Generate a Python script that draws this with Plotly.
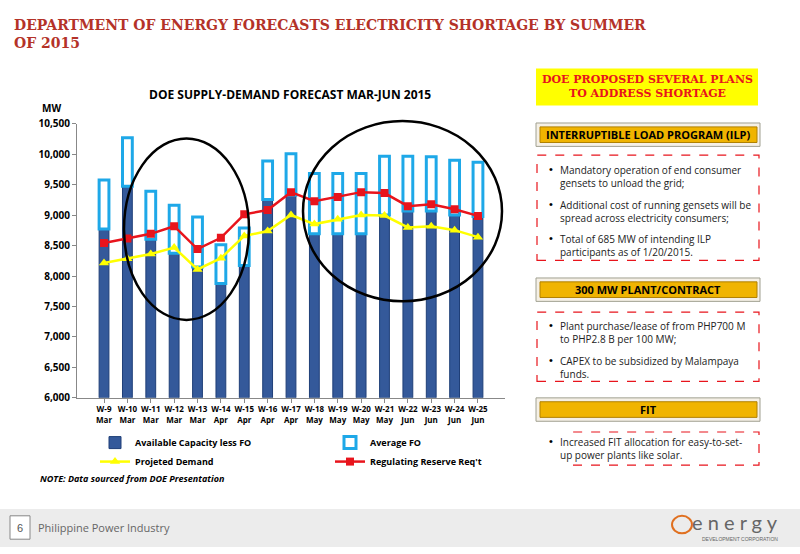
import plotly.graph_objects as go

weeks = ["W-9<br>Mar","W-10<br>Mar","W-11<br>Mar","W-12<br>Mar","W-13<br>Mar","W-14<br>Apr","W-15<br>Apr","W-16<br>Apr","W-17<br>Apr","W-18<br>May","W-19<br>May","W-20<br>May","W-21<br>May","W-22<br>Jun","W-23<br>Jun","W-24<br>Jun","W-25<br>Jun"]
available = [8775,9475,8605,8375,8150,7880,8175,9260,9330,8695,8695,8695,9005,9070,9070,9005,8980]
avg_total = [9580,10275,9395,9165,8970,8515,8790,9890,10010,9685,9685,9685,9970,9970,9960,9905,9870]
reserve = [8545,8620,8695,8820,8445,8630,9015,9085,9380,9230,9300,9380,9365,9150,9180,9100,8990]
demand = [8215,8285,8365,8470,8110,8295,8660,8740,9005,8855,8935,9005,8995,8800,8820,8755,8640]
avg_fo = [t - a for t, a in zip(avg_total, available)]
tick_text = ["<b>" + w + "</b>" for w in weeks]

W, H = 800, 554
def px(x): return x / W
def py(y): return 1 - y / H

fig = go.Figure()
fig.add_bar(x=weeks, y=[a - 6000 for a in available], base=6000, name="<b>Available Capacity less FO</b>",
            marker=dict(color="#34599a", line=dict(color="#1f3f78", width=1)), width=0.42)
fig.add_bar(x=weeks, y=avg_fo, base=available, name="<b>Average FO</b>",
            marker=dict(color="white", line=dict(color="#1ea8e8", width=3)), width=0.42)
fig.add_scatter(x=weeks, y=demand, name="<b>Projeted Demand</b>", mode="lines+markers",
                line=dict(color="#ffff00", width=2.5), marker=dict(symbol="triangle-up", size=9, color="#ffff00"))
fig.add_scatter(x=weeks, y=reserve, name="<b>Regulating Reserve Req't</b>", mode="lines+markers",
                line=dict(color="#e8141c", width=2.5), marker=dict(symbol="square", size=8, color="#e8141c"))

fig.update_layout(
    width=W, height=H, margin=dict(l=0, r=0, t=0, b=0), plot_bgcolor="white", paper_bgcolor="white",
    barmode="overlay", font=dict(family="Liberation Sans", color="black"),
    xaxis=dict(domain=[px(77), px(505)], tickfont=dict(size=8, family="Open Sans"), tickangle=0, showline=True,
               tickvals=weeks, ticktext=tick_text,
               linecolor="#888", ticks="outside", ticklen=4, tickcolor="#888"),
    yaxis=dict(domain=[py(401), py(120)], range=[6000, 10500], dtick=500, tickformat=",",
               tickfont=dict(size=10, family="Open Sans"), showline=True, linecolor="#888",
               ticks="outside", ticklen=4, tickcolor="#888", showgrid=False, tickprefix="<b>", ticksuffix="</b>"),
    legend=dict(orientation="h", x=px(125), y=py(432), xanchor="left", yanchor="top",
                entrywidth=190, font=dict(size=9, family="Open Sans"), tracegroupgap=2),
    showlegend=True,
)

shapes = []
ann = []
def A(x, y, text, xa="center", ya="middle", **kw):
    ann.append(dict(x=px(x), y=py(y), xref="paper", yref="paper", xanchor=xa, yanchor=ya, showarrow=False,
                    text=text, align="left" if xa == "left" else "center", **kw))

A(12, 8, "<b>DEPARTMENT OF ENERGY FORECASTS ELECTRICITY SHORTAGE BY SUMMER<br>OF 2015</b>", xa="left", ya="top",
  font=dict(family="DejaVu Serif", size=14, color="#b43228"))
A(290, 90, "<b>DOE SUPPLY-DEMAND FORECAST MAR-JUN 2015</b>", font=dict(size=12, family="Open Sans"))
A(40, 104, "<b>MW</b>", xa="left", font=dict(size=10, family="Open Sans"))
A(38, 484, "<b><i>NOTE: Data sourced from DOE Presentation</i></b>", xa="left", font=dict(size=9, family="Open Sans"))
for x0, y0, x1, y1 in [(124, 135, 249, 321), (303, 117, 502, 302)]:
    shapes.append(dict(type="circle", xref="paper", yref="paper", x0=px(x0), x1=px(x1), y0=py(y1), y1=py(y0),
                       line=dict(color="black", width=2.5)))
shapes.append(dict(type="rect", xref="paper", yref="paper", x0=px(536), x1=px(758), y0=py(101), y1=py(63),
                   fillcolor="#ffff00", line=dict(width=0)))
A(647, 82, "<b>DOE PROPOSED SEVERAL PLANS<br>TO ADDRESS SHORTAGE</b>", font=dict(family="DejaVu Serif", size=11, color="#e8141c"))
headers = [("INTERRUPTIBLE LOAD PROGRAM (ILP)", 131), ("300 MW PLANT/CONTRACT", 290), ("FIT", 413)]
for t, yc in headers:
    shapes.append(dict(type="rect", xref="paper", yref="paper", x0=px(536), x1=px(760), y0=py(yc + 12), y1=py(yc - 12),
                       fillcolor="#f5f0e6", line=dict(color="#a0a090", width=1)))
    shapes.append(dict(type="rect", xref="paper", yref="paper", x0=px(540), x1=px(757), y0=py(yc + 8), y1=py(yc - 8),
                       fillcolor="#f0b400", line=dict(color="#b08000", width=1)))
    A(648, yc, "<b>" + t + "</b>", font=dict(family="Open Sans", size=11, color="black"))
boxes = [
    (152, 260, ["Mandatory operation of end consumer<br>gensets to unload the grid;",
                "Additional cost of running gensets will be<br>spread across electricity consumers;",
                "Total of 685 MW of intending ILP<br>participants as of 1/20/2015."], [174, 210, 245]),
    (313, 384, ["Plant purchase/lease of from PHP700 M<br>to PHP2.8 B per 100 MW;",
                "CAPEX to be subsidized by Malampaya<br>funds."], [334, 370]),
    (436, 470, ["Increased FIT allocation for easy-to-set-<br>up power plants like solar."], [453]),
]
for y0, y1, items, ys in boxes:
    shapes.append(dict(type="rect", xref="paper", yref="paper", x0=px(537), x1=px(759), y0=py(y1), y1=py(y0),
                       line=dict(color="#e8141c", width=1.2, dash="dash")))
    for t, yy in zip(items, ys):
        A(547, yy - 8, "•", xa="left", font=dict(size=11))
        A(558, yy, t, xa="left", font=dict(family="Open Sans", size=10, color="#222"))
shapes.append(dict(type="rect", xref="paper", yref="paper", x0=0, x1=1, y0=0, y1=py(515),
                   fillcolor="#ececec", line=dict(width=0)))
shapes.append(dict(type="rect", xref="paper", yref="paper", x0=px(10), x1=px(30), y0=py(546), y1=py(522),
                   fillcolor="white", line=dict(color="#888", width=1)))
A(20, 534, "6", font=dict(size=11, color="#555"))
A(36, 534, "Philippine Power Industry", xa="left", font=dict(size=11, color="#666", family="Open Sans"))
A(735, 528, "e n e r g y", font=dict(size=20, color="#666", family="Lato"))
A(740, 546, "DEVELOPMENT CORPORATION", font=dict(size=5, color="#666"))
shapes.append(dict(type="circle", xref="paper", yref="paper", x0=px(672), x1=px(692), y0=py(540), y1=py(522),
                   line=dict(color="#e07020", width=2)))
fig.update_layout(shapes=shapes, annotations=ann)
fig.write_html("out.html", config={"displayModeBar": False},
               post_script="document.body.style.margin='0';document.body.style.overflow='hidden';")
